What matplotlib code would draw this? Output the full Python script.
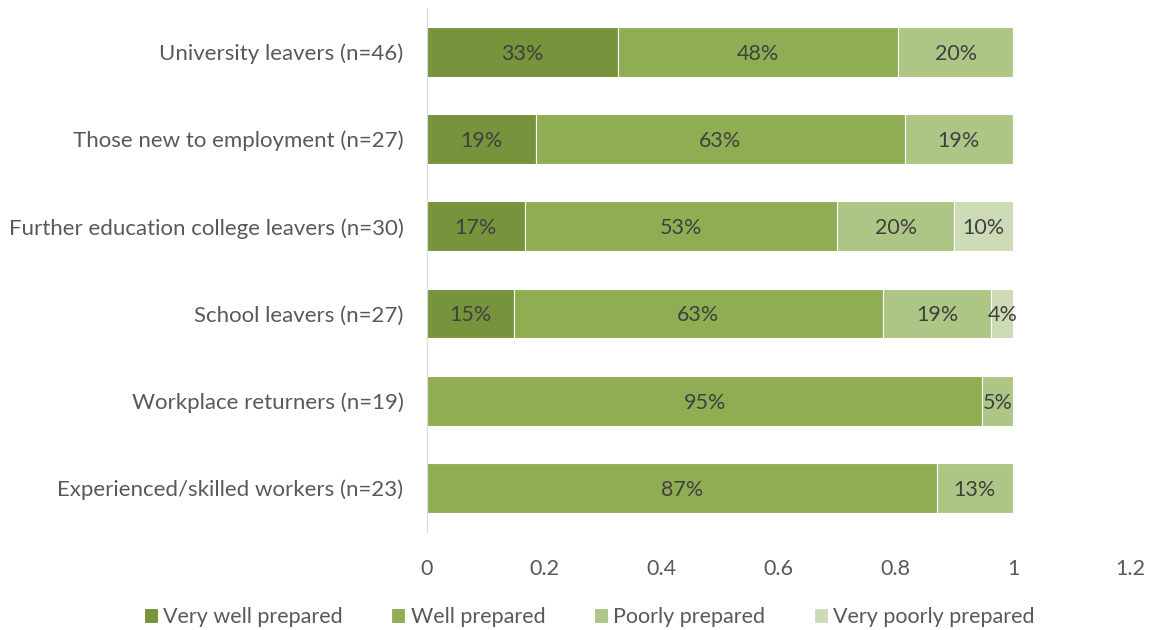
import numpy as np
import matplotlib.pyplot as plt

plt.rcParams['font.family'] = ['Lato', 'DejaVu Sans']

# respondent groups, bottom to top
groups = ["Experienced/skilled workers (n=23)",
          "Workplace returners (n=19)",
          "School leavers (n=27)",
          "Further education college leavers (n=30)",
          "Those new to employment (n=27)",
          "University leavers (n=46)"]
n_resp = np.array([23, 19, 27, 30, 27, 46])

# response counts per group
very_well = np.array([0, 0, 4, 5, 5, 15])
well = np.array([20, 18, 17, 16, 17, 22])
poorly = np.array([3, 1, 5, 6, 5, 9])
very_poorly = np.array([0, 0, 1, 3, 0, 0])

series = ["Very well prepared", "Well prepared", "Poorly prepared", "Very poorly prepared"]
colors = ["#77933C", "#8FAE54", "#AEC685", "#CDDBB6"]

fig = plt.figure(figsize=(11.51, 6.30), dpi=100)
ax = fig.add_axes([0.371, 0.156, 0.611, 0.831])

y = np.arange(len(groups))
left = np.zeros(len(groups))
for name, counts, col in zip(series, [very_well, well, poorly, very_poorly], colors):
    frac = counts / n_resp
    ax.barh(y, frac, left=left, height=0.57, color=col, edgecolor='white',
            linewidth=0.8, label=name)
    for yi, l, f in zip(y, left, frac):
        if f > 0:
            ax.text(l + f / 2, yi - 0.02, f"{f:.0%}", ha='center', va='center',
                    fontsize=15.5, color='#404040')
    left += frac

ax.set_xlim(0, 1.2)
ax.set_ylim(-0.5, len(groups) - 0.5)
ax.set_xticks(np.arange(0, 1.21, 0.2))
ax.set_xticklabels(["0", "0.2", "0.4", "0.6", "0.8", "1", "1.2"])
ax.set_yticks(y)
ax.set_yticklabels(groups)
ax.tick_params(length=0, labelsize=15.5, labelcolor='#595959')
ax.tick_params(axis='y', labelsize=16)
ax.tick_params(axis='x', pad=20)
ax.tick_params(axis='y', pad=17)
for s in ['top', 'right', 'bottom']:
    ax.spines[s].set_visible(False)
ax.spines['left'].set_color('#D9D9D9')

fig.legend(loc='lower center', bbox_to_anchor=(0.512, -0.026), ncol=4, frameon=False,
           fontsize=15.5, labelcolor='#595959', handlelength=0.65, handleheight=0.65,
           handletextpad=0.25, columnspacing=2.25)

fig.savefig("out.png", dpi=100)
